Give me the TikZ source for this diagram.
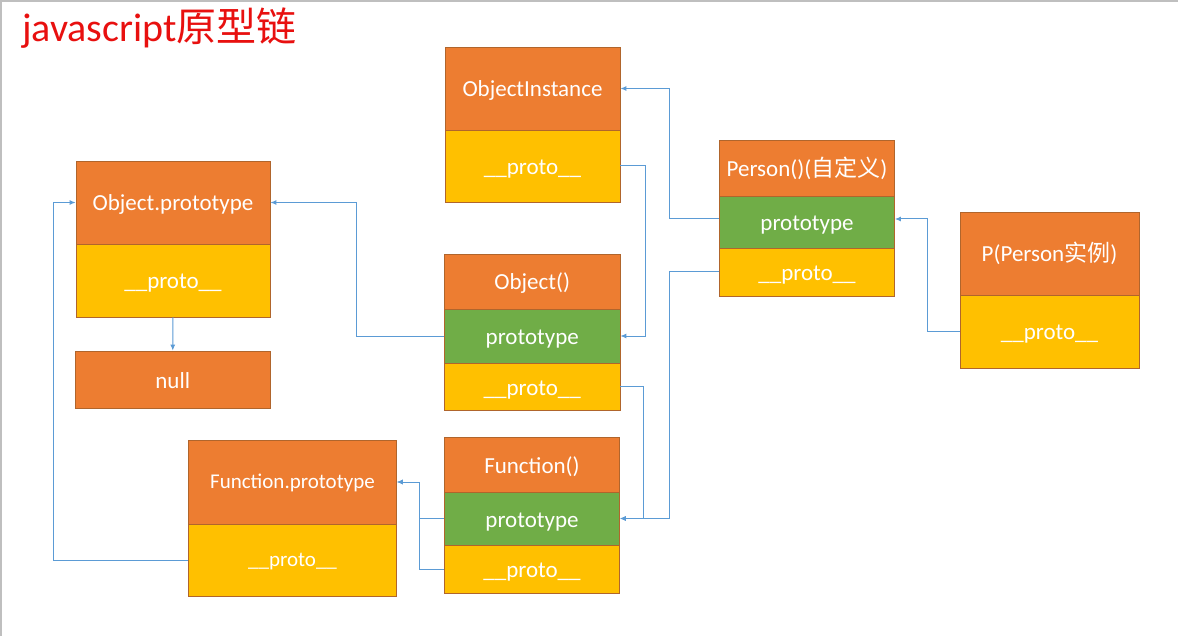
\documentclass[tikz,border=0pt]{standalone}
\usepackage{fontspec}
\setmainfont{Carlito}
\newfontfamily\cjk{Noto Sans CJK SC}
\usetikzlibrary{arrows.meta,calc}
\definecolor{orng}{HTML}{ED7D31}
\definecolor{gold}{HTML}{FFC000}
\definecolor{grn}{HTML}{70AD47}
\definecolor{lnk}{HTML}{5B9BD5}
\definecolor{edgec}{HTML}{B0652C}
\definecolor{ttl}{HTML}{E8100F}
\begin{document}
\begin{tikzpicture}[x=1pt,y=-1pt,
  cell/.style={draw=edgec, line width=0.8pt, inner sep=0pt, text=white,
    font=\fontsize{23}{27}\selectfont, text height=17pt, text depth=0pt},
  hdcell/.style={cell, fill=orng},
  grcell/.style={cell, fill=grn},
  gdcell/.style={cell, fill=gold},
  small/.style={font=\fontsize{21}{25}\selectfont, text height=13pt},
  link/.style={draw=lnk, line width=1pt, -{Latex[length=6pt,width=5pt]}}]
\useasboundingbox (0,0) rectangle (1178,636);
\fill[white] (0,0) rectangle (1178,636);
\draw[black!25, line width=1.5pt] (0,1) -- (1178,1);
\draw[black!25, line width=1.5pt] (1,0) -- (1,636);

\node[anchor=base west, text=ttl, font=\fontsize{40}{48}\selectfont, inner sep=0pt] (title) at (22,42) {javascript{\cjk 原型链}};

% ObjectInstance
\node[hdcell, minimum width=175pt, minimum height=83pt] (oih) at (532.5,88.5) {ObjectInstance};
\node[gdcell, minimum width=175pt, minimum height=72pt] (oip) at (532.5,166) {\_\_proto\_\_};

% Object.prototype
\node[hdcell, minimum width=194pt, minimum height=83pt] (oph) at (173,202.5) {Object.prototype};
\node[gdcell, minimum width=194pt, minimum height=73pt] (opp) at (173,280.5) {\_\_proto\_\_};
\node[hdcell, minimum width=194.5pt, minimum height=57pt] (nul) at (172.75,379.5) {null};

% Object()
\node[hdcell, minimum width=175.5pt, minimum height=55pt] (objh) at (532.25,281.5) {Object()};
\node[grcell, minimum width=175.5pt, minimum height=54pt] (objp) at (532.25,336) {prototype};
\node[gdcell, minimum width=175.5pt, minimum height=47pt] (objpr) at (532.25,386.5) {\_\_proto\_\_};

% Function()
\node[hdcell, minimum width=175pt, minimum height=55pt] (fnh) at (532,464.5) {Function()};
\node[grcell, minimum width=175pt, minimum height=53pt] (fnp) at (532,518.5) {prototype};
\node[gdcell, minimum width=175pt, minimum height=48pt] (fnpr) at (532,569) {\_\_proto\_\_};

% Function.prototype
\node[hdcell, small, minimum width=208pt, minimum height=84pt] (fph) at (292.5,482) {Function.prototype};
\node[gdcell, small, minimum width=208pt, minimum height=72pt] (fpp) at (292.5,560) {\_\_proto\_\_};

% Person()
\node[hdcell, minimum width=175pt, minimum height=56pt] (ph) at (807,168) {Person()({\cjk 自定义})};
\node[grcell, minimum width=175pt, minimum height=52pt] (pp) at (807,222) {prototype};
\node[gdcell, minimum width=175pt, minimum height=48pt] (ppr) at (807,272) {\_\_proto\_\_};

% P(Person instance)
\node[hdcell, minimum width=179pt, minimum height=83pt] (peh) at (1049.5,253.5) {P(Person{\cjk 实例})};
\node[gdcell, minimum width=179pt, minimum height=73pt] (pep) at (1049.5,331.5) {\_\_proto\_\_};

% connectors
\draw[link] (oip.east) -- ++(25,0) |- (objp.east);
\draw[link] ($(pp.west)+(0,-3)$) -| ($(oih.east)+(49.5,0)$) -- (oih.east);
\draw[link] (pep.west) -| ($(pp.east)+(33,-3)$) -- ($(pp.east)+(0,-3)$);
\draw[link] (ppr.west) -- ++(-50,0) |- (fnp.east);
\draw[link] (objpr.east) -- ++(23,0) |- (fnp.east);
\draw[link] (objp.west) -- ++(-88,0) |- (oph.east);
\draw[link] (fnp.west) -- ++(-24.5,0) |- (fph.east);
\draw[link] (fnpr.west) -- ++(-24.5,0) |- (fph.east);
\draw[link] (fpp.west) -- ++(-135,0) |- (oph.west);
\draw[link] (opp.south) -- (nul.north);
\end{tikzpicture}
\end{document}
